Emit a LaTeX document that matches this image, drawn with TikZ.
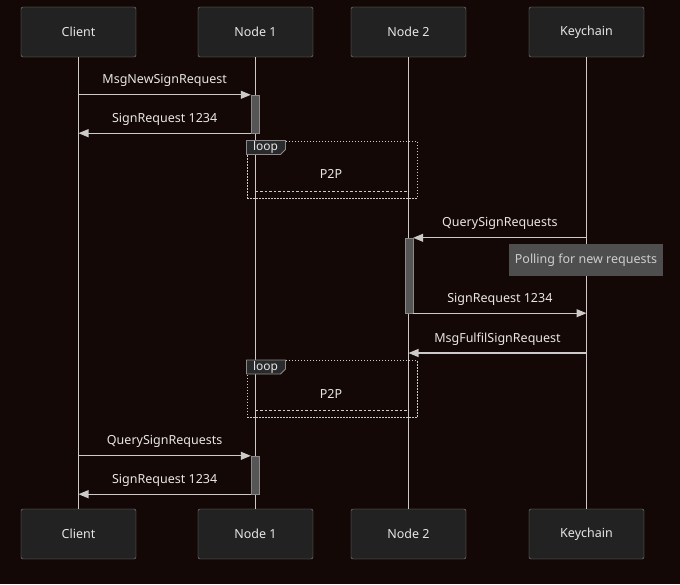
\documentclass[tikz,border=0pt]{standalone}
\usepackage{fontspec}
\setmainfont{Noto Sans}
\usetikzlibrary{arrows.meta,positioning}
\definecolor{bgDark}{RGB}{19,8,5}
\definecolor{boxFill}{RGB}{34,34,35}
\definecolor{boxLine}{RGB}{140,138,136}
\definecolor{lineGray}{RGB}{205,203,201}
\definecolor{txtGray}{RGB}{232,230,228}
\definecolor{actFill}{RGB}{85,85,85}
\definecolor{noteFill}{RGB}{78,78,78}
\definecolor{noteTxt}{RGB}{205,205,205}
\definecolor{tagFill}{RGB}{40,42,44}

\begin{document}
\begin{tikzpicture}[x=1pt,y=-1pt,
  actor/.style={draw=boxLine,fill=boxFill,rounded corners=2pt,minimum width=115pt,minimum height=50pt,text=txtGray,font=\fontsize{12.5}{14}\selectfont},
  life/.style={lineGray,line width=1.3pt},
  actbar/.style={draw=boxLine,fill=actFill,minimum width=8pt,inner sep=0pt},
  msg/.style={lineGray,line width=1.1pt,-{Triangle[length=10pt,width=8pt]}},
  lbl/.style={text=txtGray,font=\fontsize{12.5}{14}\selectfont,above=4pt},
  frame/.style={draw=lineGray,line width=1pt,dash pattern=on 1.5pt off 1.5pt,minimum width=170pt,inner sep=0pt},
  p2p/.style={lineGray,line width=1pt,dash pattern=on 2.5pt off 2pt},
  tag/.style={draw=boxLine,fill=tagFill,line width=0.8pt},
  tagtxt/.style={text=txtGray,font=\fontsize{12}{13}\selectfont,inner sep=0pt},
  note/.style={fill=noteFill,minimum width=154pt,minimum height=32pt,text=noteTxt,font=\fontsize{12.5}{14}\selectfont}]
\fill[bgDark] (0,0) rectangle (680,584);
\useasboundingbox (0,0) rectangle (680,584);

% participants
\node[actor] (cT) at (78.5,32) {Client};
\node[actor] (n1T) at (255.5,32) {Node 1};
\node[actor] (n2T) at (408.5,32) {Node 2};
\node[actor] (kT) at (586.5,32) {Keychain};
\node[actor] (cB) at (78.5,534) {Client};
\node[actor] (n1B) at (255.5,534) {Node 1};
\node[actor] (n2B) at (408.5,534) {Node 2};
\node[actor] (kB) at (586.5,534) {Keychain};

\draw[life] (cT) -- (cB);
\draw[life] (n1T) -- (n1B);
\draw[life] (n2T) -- (n2B);
\draw[life] (kT) -- (kB);

% loop frames
\node[frame,minimum height=57pt] (lp1) at (332,169.5) {};
\node[frame,minimum height=57pt] (lp2) at (332,389) {};
\foreach \f in {lp1,lp2}{
  \draw[tag] (\f.north west) -- ++(39,0) -- ++(0,9) -- ++(-5,5) -- ++(-34,0) -- cycle;
  \node[tagtxt] at ([xshift=19pt,yshift=-7pt]\f.north west) {loop};
}
\node[lbl,above=0pt] (p1) at (331,182) {P2P};
\draw[p2p] (n1T.south |- 0,191) -- (n2T.south |- 0,191);
\node[lbl,above=0pt] (p2) at (331,402) {P2P};
\draw[p2p] (n1T.south |- 0,410) -- (n2T.south |- 0,410);

% activations
\node[actbar,minimum height=38pt] (a1) at (255,114) {};
\node[actbar,minimum height=75pt] (a2) at (409,275.5) {};
\node[actbar,minimum height=38pt] (a3) at (255,475) {};

% messages
\draw[msg] (cT.south |- a1.north west) -- (a1.north west) node[lbl,midway] {MsgNewSignRequest};
\draw[msg] (a1.south west) -- (cT.south |- a1.south west) node[lbl,midway] {SignRequest 1234};
\draw[msg] (kT.south |- a2.north east) -- (a2.north east) node[lbl,midway] {QuerySignRequests};
\node[note] (poll) at (586,260) {Polling for new requests};
\draw[msg] (a2.south east) -- (kT.south |- a2.south east) node[lbl,midway] {SignRequest 1234};
\draw[msg] (kT.south |- 0,353) -- (n2T.south |- 0,353) node[lbl,midway] {MsgFulfilSignRequest};
\draw[msg] (cT.south |- a3.north west) -- (a3.north west) node[lbl,midway] {QuerySignRequests};
\draw[msg] (a3.south west) -- (cT.south |- a3.south west) node[lbl,midway] {SignRequest 1234};
\end{tikzpicture}
\end{document}
